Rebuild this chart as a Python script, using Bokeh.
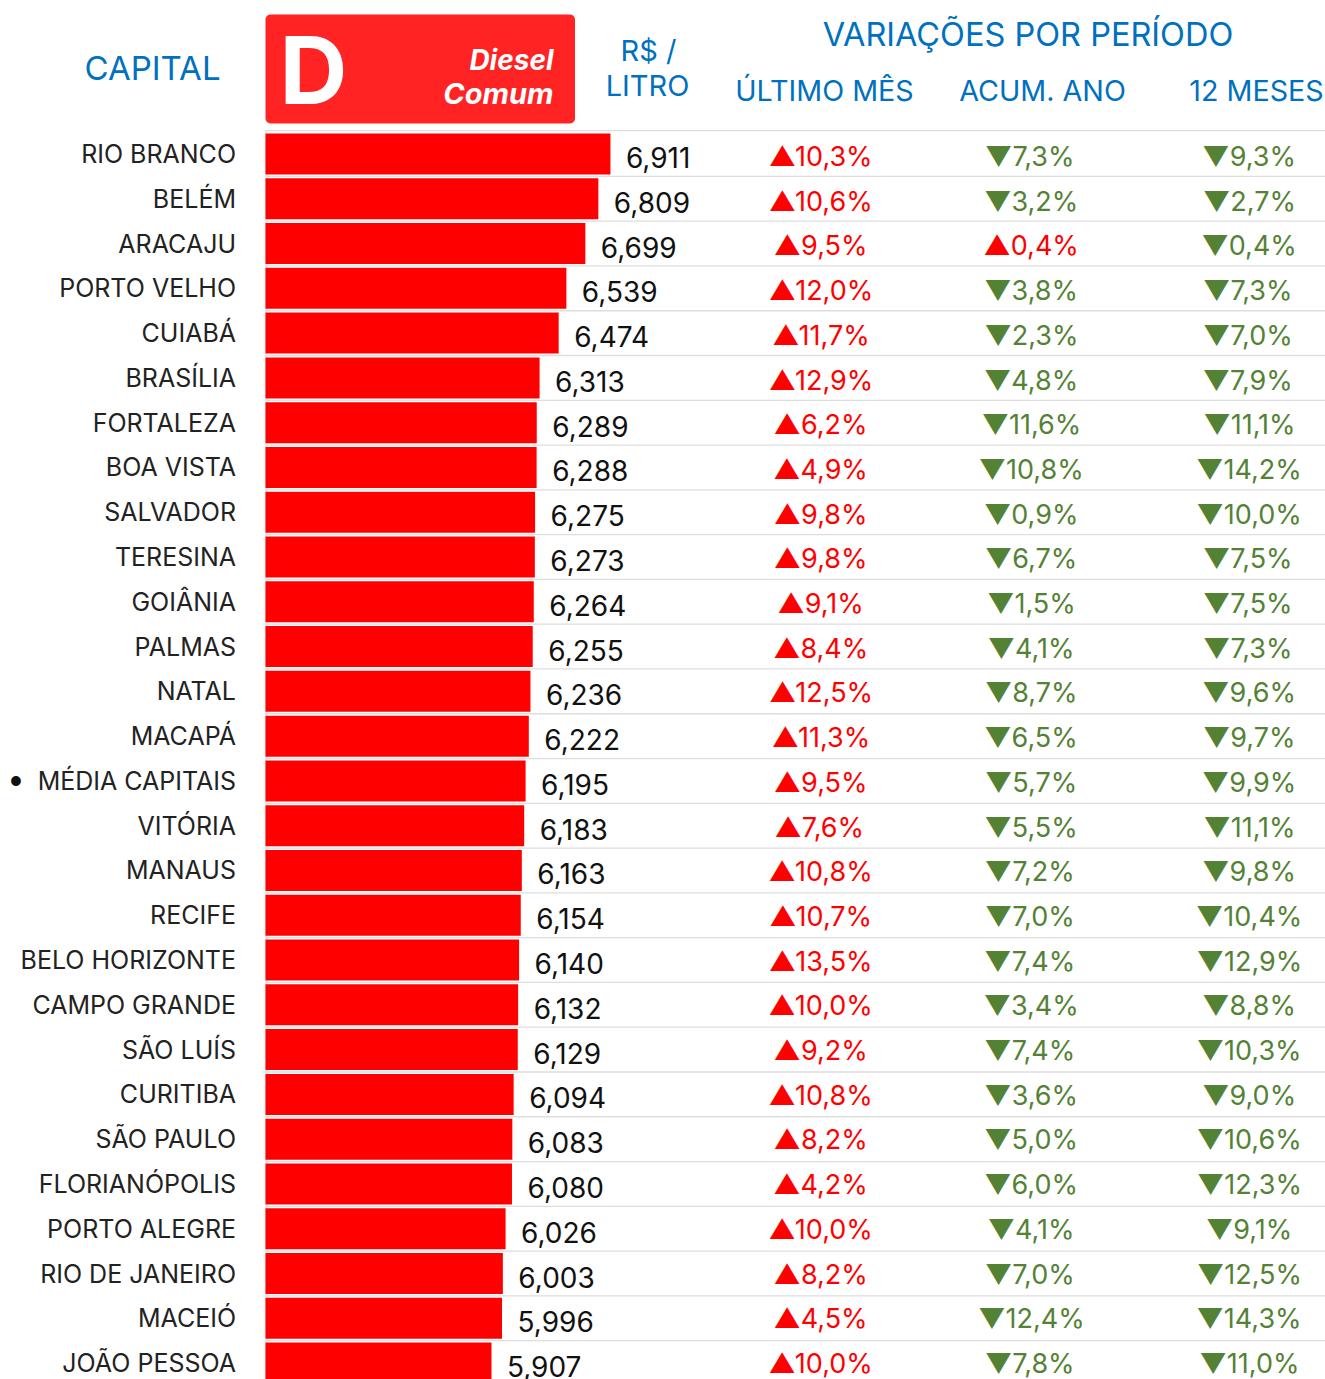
from bokeh.plotting import figure
from bokeh.models import Range1d, ColumnDataSource
from bokeh.core.properties import value
from bokeh.embed import file_html
from bokeh.resources import INLINE

capitals = ["RIO BRANCO","BELÉM","ARACAJU","PORTO VELHO","CUIABÁ","BRASÍLIA","FORTALEZA","BOA VISTA","SALVADOR","TERESINA","GOIÂNIA","PALMAS","NATAL","MACAPÁ","MÉDIA CAPITAIS","VITÓRIA","MANAUS","RECIFE","BELO HORIZONTE","CAMPO GRANDE","SÃO LUÍS","CURITIBA","SÃO PAULO","FLORIANÓPOLIS","PORTO ALEGRE","RIO DE JANEIRO","MACEIÓ","JOÃO PESSOA"]
prices = [6.911,6.809,6.699,6.539,6.474,6.313,6.289,6.288,6.275,6.273,6.264,6.255,6.236,6.222,6.195,6.183,6.163,6.154,6.140,6.132,6.129,6.094,6.083,6.080,6.026,6.003,5.996,5.907]
ultimo_mes = [10.3,10.6,9.5,12.0,11.7,12.9,6.2,4.9,9.8,9.8,9.1,8.4,12.5,11.3,9.5,7.6,10.8,10.7,13.5,10.0,9.2,10.8,8.2,4.2,10.0,8.2,4.5,10.0]
acum_ano = [-7.3,-3.2,0.4,-3.8,-2.3,-4.8,-11.6,-10.8,-0.9,-6.7,-1.5,-4.1,-8.7,-6.5,-5.7,-5.5,-7.2,-7.0,-7.4,-3.4,-7.4,-3.6,-5.0,-6.0,-4.1,-7.0,-12.4,-7.8]
doze_meses = [-9.3,-2.7,-0.4,-7.3,-7.0,-7.9,-11.1,-14.2,-10.0,-7.5,-7.5,-7.3,-9.6,-9.7,-9.9,-11.1,-9.8,-10.4,-12.9,-8.8,-10.3,-9.0,-10.6,-12.3,-9.1,-12.5,-14.3,-11.0]

FONT = "Inter"
BLUE, RED, GREEN, INK = "#0070c0", "#ff0000", "#548235", "#222222"
W, H = 1325, 1379
PXU = 118.5            # pixels per R$
X0 = 265               # page x of the bar origin
ROW0, PITCH = 153.5, 44.78
PCT_PITCH = 44.70      # the percentage columns run on a slightly tighter step

def px_to_val(x):
    return 4 + (x - X0) / PXU

def px_to_row(y):
    return (y - ROW0) / PITCH

p = figure(width=W, height=H, output_backend="svg", toolbar_location=None,
           x_range=Range1d(px_to_val(0), px_to_val(W)),
           y_range=Range1d(px_to_row(H), px_to_row(0)),
           x_axis_type=None, y_axis_type=None, min_border=0, outline_line_color=None)
p.grid.visible = False
p.background_fill_color = "white"
p.border_fill_color = "white"
p.extra_x_ranges["px"] = Range1d(0, W)
p.extra_y_ranges["px"] = Range1d(H, 0)

rows = list(range(len(capitals)))
right = px_to_val(W)

# row rules
rule_rows = [-0.5 - 0.02] + [r + 0.5 for r in rows[:-1]]
p.segment(x0=[4] * len(rule_rows), x1=[right] * len(rule_rows), y0=rule_rows, y1=rule_rows,
          line_color="#dedede", line_width=1.3)
p.segment(x0=[4], x1=[4], y0=[-0.52], y1=[27.6], line_color="#e4e4e4", line_width=1.5)

# bars
src = ColumnDataSource(dict(y=rows, price=prices, name=capitals,
                            label=[f"{v:.3f}".replace(".", ",") for v in prices]))
p.hbar(y="y", left=4, right="price", height=41 / PITCH, source=src, fill_color=RED, line_color=None)

p.text(x=[px_to_val(235.5)] * len(rows), y=rows, text=capitals, text_align="right", text_baseline="middle",
       text_font=value(FONT), text_font_size="25px", text_color=INK)
p.text(x=[px_to_val(15.5)], y=[capitals.index("MÉDIA CAPITAIS")], text=["●"], text_align="center",
       text_baseline="middle", text_font=value(FONT), text_font_size="13px", text_color="#111111")
p.text(x="price", y="y", text="label", source=src, x_offset=15.5, y_offset=3.5, text_align="left",
       text_baseline="middle", text_font=value(FONT), text_font_size="28px", text_color="#111111")

def fmt(v):
    return ("▲" if v > 0 else "▼") + f"{abs(v):.1f}".replace(".", ",") + "%"

pct_rows = [r * PCT_PITCH / PITCH for r in rows]
for series, cx in ((ultimo_mes, 820.5), (acum_ano, 1031), (doze_meses, 1249)):
    p.text(x=[px_to_val(cx)] * len(rows), y=pct_rows, text=[fmt(v) for v in series],
           y_offset=2.5, text_align="center", text_baseline="middle", text_font=value(FONT),
           text_font_size="27px", text_color=[RED if v > 0 else GREEN for v in series])

# header
p.quad(left=[265], right=[574.5], top=[14], bottom=[123], x_range_name="px", y_range_name="px",
       fill_color="#ff2323", line_color=None, border_radius=5)

def head(txt, x, y, size, color=BLUE, align="center", style="normal"):
    p.text(x=[x], y=[y], text=[txt], x_range_name="px", y_range_name="px", text_align=align,
           text_baseline="middle", text_font=value(FONT), text_font_size=f"{size}px",
           text_color=color, text_font_style=style)

head("CAPITAL", 152, 67.5, 33)
head("R$ /", 648, 49.5, 29)
head("LITRO", 647, 84.5, 29)
head("VARIAÇÕES POR PERÍODO", 1027.5, 33.5, 32.5)
head("ÚLTIMO MÊS", 824, 89.5, 28.7)
head("ACUM. ANO", 1042, 89.5, 28.7)
head("12 MESES", 1256, 89.5, 28.7)
head("D", 313, 69.5, 94, "white", style="bold")
head("Diesel", 553, 59.5, 28, "white", "right", "bold italic")
head("Comum", 553, 92.5, 29, "white", "right", "bold italic")

open("out.html", "w").write(file_html(p, INLINE))
